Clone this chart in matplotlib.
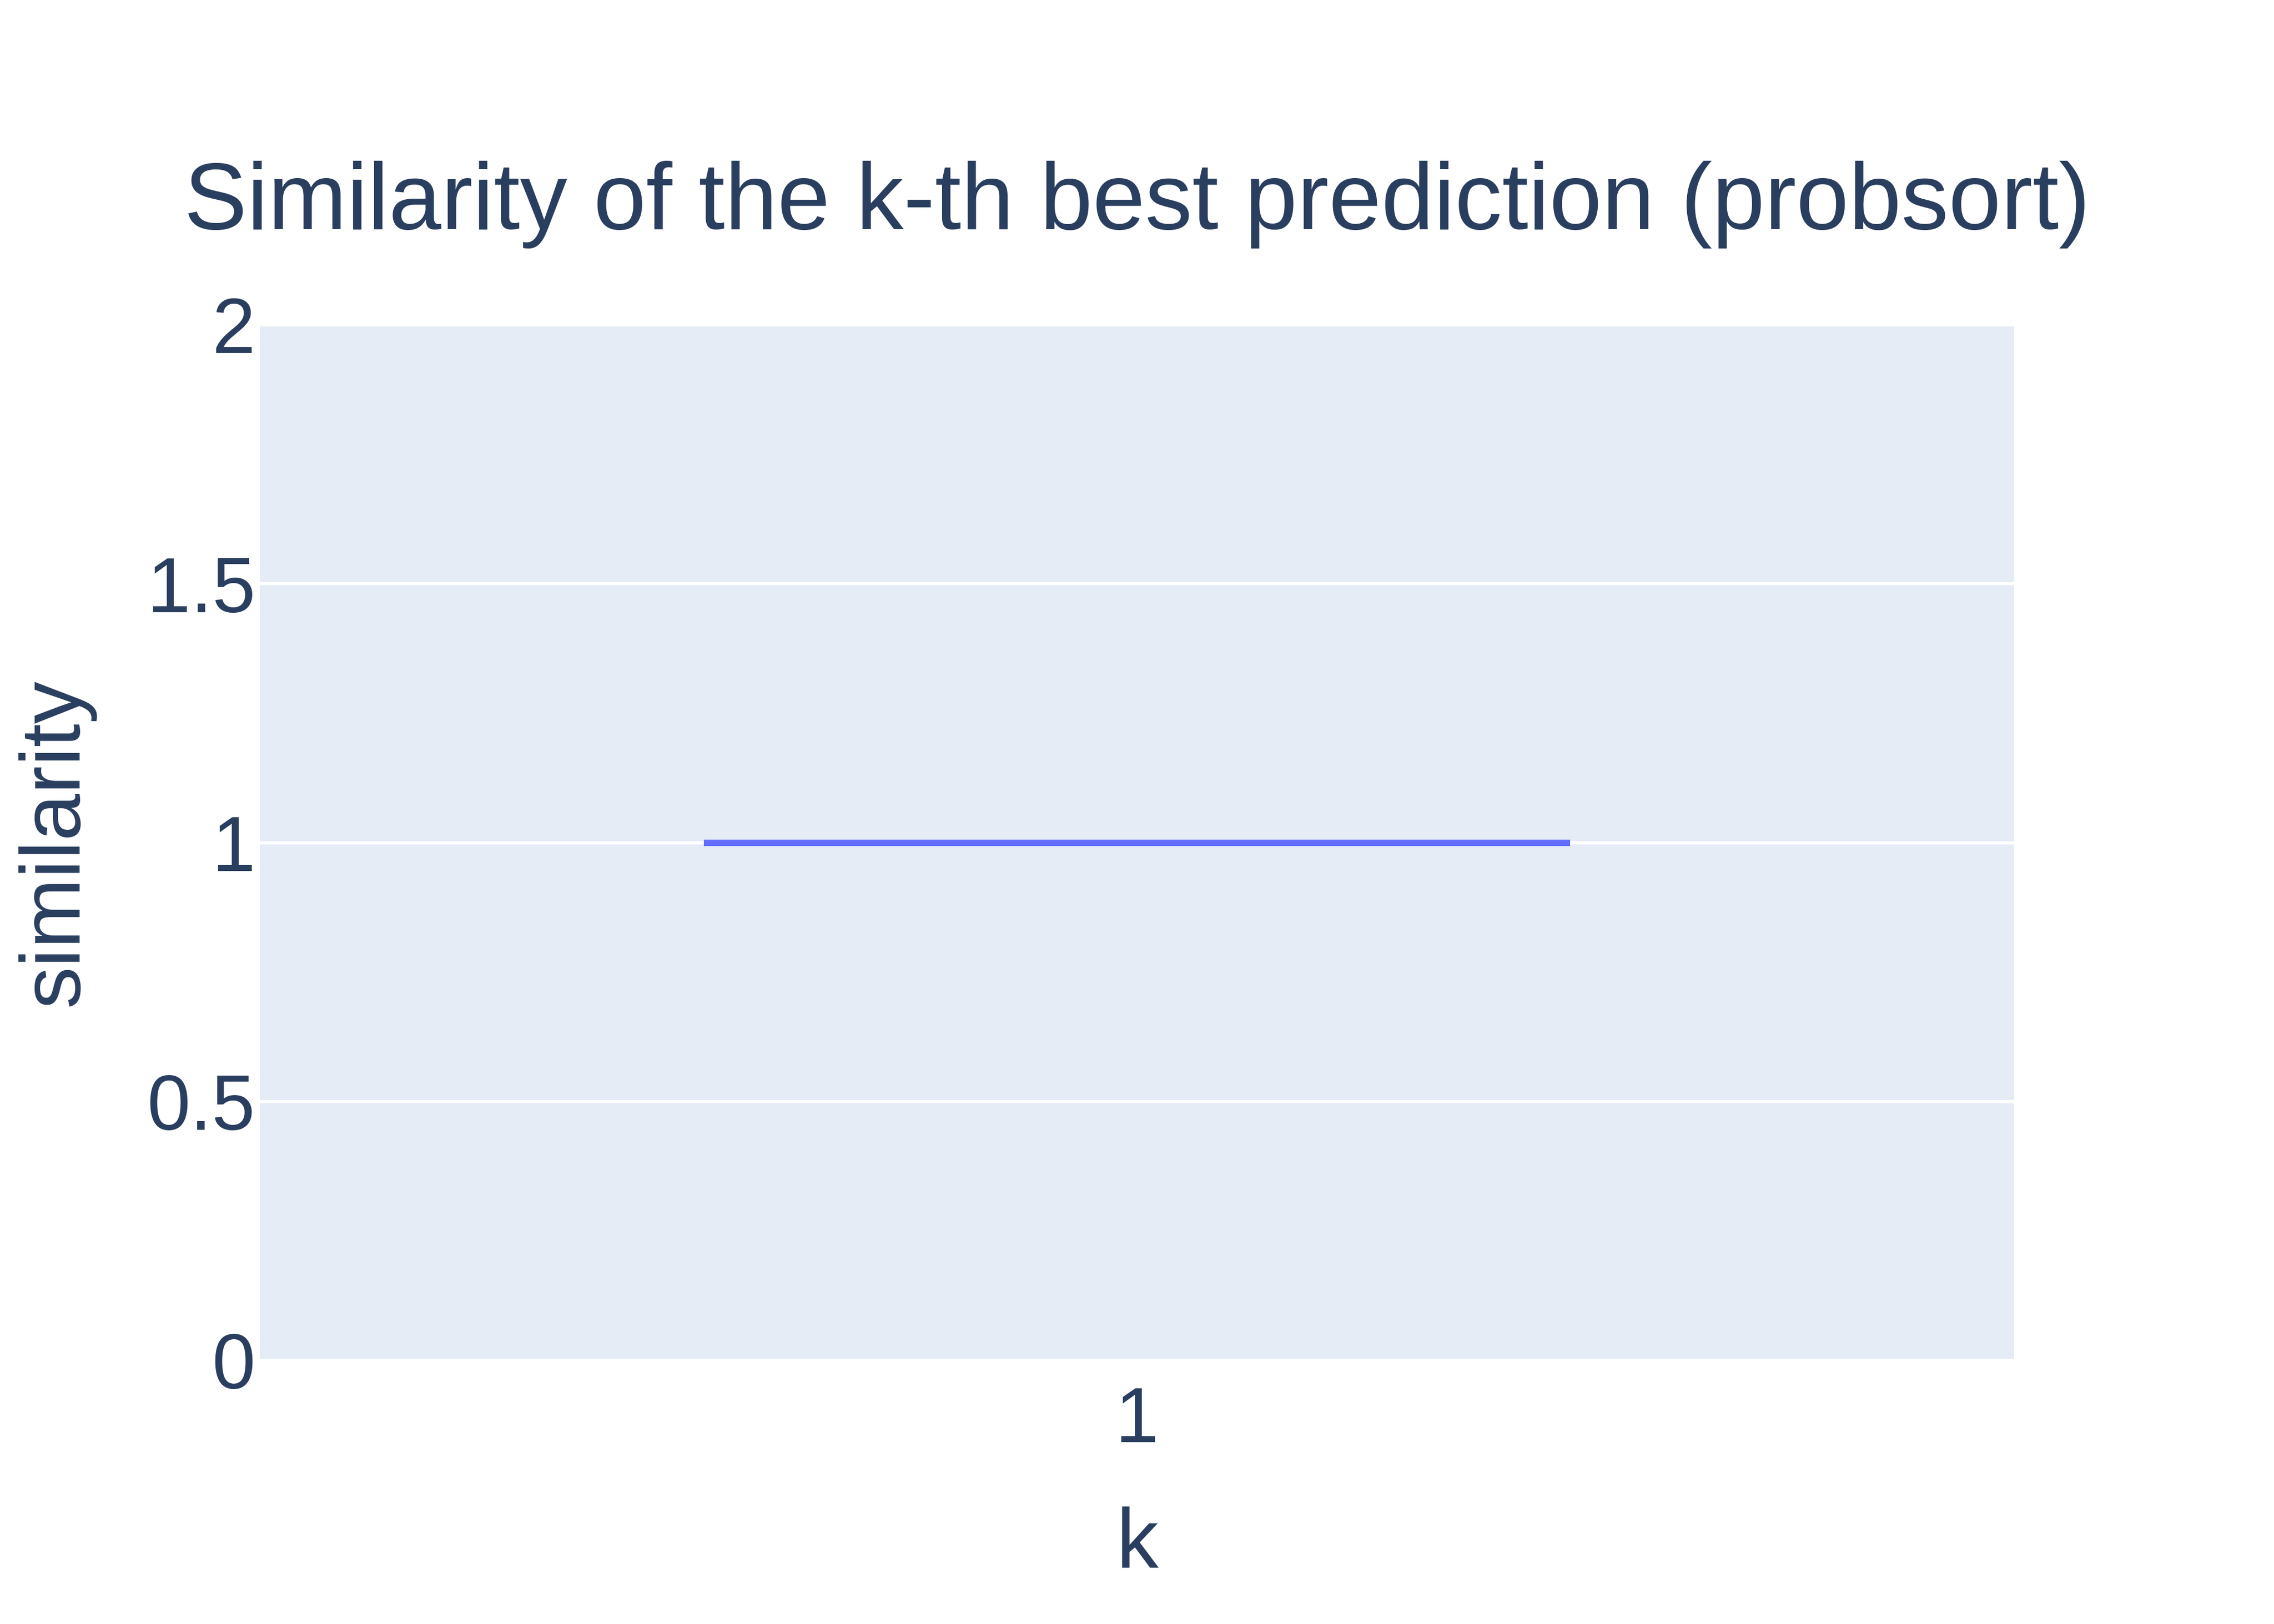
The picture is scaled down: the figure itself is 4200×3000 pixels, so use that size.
import numpy as np
import matplotlib
matplotlib.use('Agg')
import matplotlib.pyplot as plt

# similarity values of the k-th best prediction (all equal to 1 for k=1)
k_values = [1]
similarity = [[1.0, 1.0, 1.0, 1.0]]
y_ticks = [0, 0.5, 1, 1.5, 2]
y_tick_labels = ['0', '0.5', '1', '1.5', '2']

text_color = '#2a3f5f'
box_color = '#636efa'
bg_color = '#E5ECF6'

plt.rcParams['font.family'] = ['Liberation Sans', 'DejaVu Sans']

fig = plt.figure(figsize=(14, 10), dpi=300)
ax = fig.add_axes([480 / 4200, 1 - 2513 / 3000, 3240 / 4200, 1913 / 3000])
ax.set_facecolor(bg_color)

ax.boxplot(similarity, positions=k_values, widths=0.494, showcaps=False,
           showfliers=False, patch_artist=True,
           boxprops=dict(facecolor=box_color + '80', edgecolor=box_color, linewidth=2.88),
           medianprops=dict(color=box_color, linewidth=2.88),
           whiskerprops=dict(color=box_color, linewidth=2.88), zorder=3)

ax.set_xlim(0.5, 1.5)
ax.set_ylim(0, 2)
ax.set_xticks(k_values)
ax.set_xticklabels([str(k) for k in k_values])
ax.set_yticks(y_ticks)
ax.set_yticklabels(y_tick_labels)
ax.grid(axis='y', color='white', linewidth=1.44, zorder=1)
ax.set_axisbelow(True)
for s in ax.spines.values():
    s.set_visible(False)
ax.tick_params(axis='both', length=0, labelsize=34.5, labelcolor=text_color)
ax.tick_params(axis='x', pad=11)
ax.tick_params(axis='y', pad=2)

fig.text(0.5, 1 - 423 / 3000, 'Similarity of the k-th best prediction (probsort)',
         ha='center', va='baseline', fontsize=41.9, color=text_color)
fig.text(2100 / 4200, 1 - 2896 / 3000, 'k', ha='center', va='baseline',
         fontsize=37.4, color=text_color)
fig.text(103 / 4200, 1 - 1556 / 3000, 'similarity', ha='center', va='center',
         rotation=90, fontsize=37.4, color=text_color)

fig.savefig('out.png', dpi=300, facecolor='white')
